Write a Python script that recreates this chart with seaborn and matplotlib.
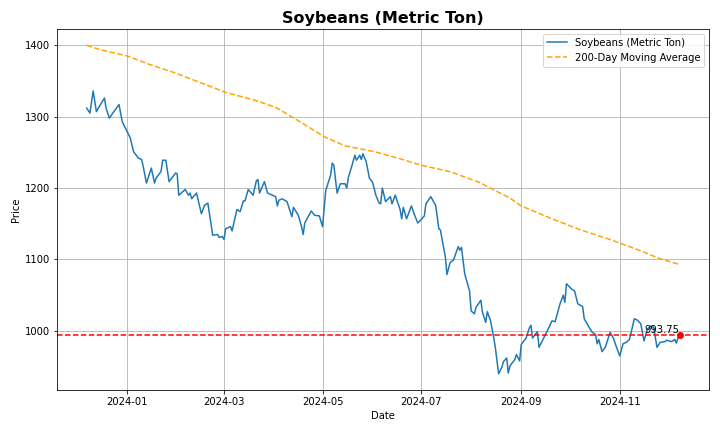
import pandas as pd
import seaborn as sns
import matplotlib
matplotlib.use("Agg")
import matplotlib.pyplot as plt

# days counted from 2024-01-01
base_date = pd.Timestamp("2024-01-01")

price_days = [-25, -23, -21, -19, -17, -14, -13, -11, -5, -3,
              2, 4, 7, 9, 10, 12, 15, 17, 18, 21,
              22, 24, 26, 30, 31, 32, 36, 38, 39, 40,
              43, 46, 48, 50, 53, 56, 57, 59, 60, 61,
              64, 65, 68, 70, 72, 73, 75, 78, 80, 81,
              82, 85, 87, 92, 93, 94, 96, 99, 102, 103,
              106, 108, 109, 110, 114, 116, 119, 121, 123, 126,
              127, 128, 130, 132, 135, 136, 137, 139, 141, 142,
              144, 145, 146, 148, 150, 152, 154, 156, 157, 158,
              160, 163, 164, 166, 169, 170, 171, 173, 176, 178,
              180, 184, 185, 188, 191, 193, 194, 195, 197, 198,
              200, 202, 205, 206, 207, 209, 212, 213, 215, 216,
              219, 220, 222, 223, 225, 227, 228, 230, 232, 233,
              235, 236, 237, 240, 241, 243, 244, 247, 249, 250,
              251, 254, 255, 257, 259, 261, 263, 265, 268, 270,
              271, 272, 275, 277, 279, 282, 283, 286, 288, 290,
              291, 292, 294, 296, 299, 301, 303, 305, 307, 309,
              311, 314, 316, 318, 320, 322, 324, 326, 328, 330,
              333, 334, 337, 339, 340, 341, 342]

prices = [1312, 1305, 1336, 1307, 1315, 1326, 1312, 1298, 1317, 1293,
          1270, 1251, 1242, 1240, 1230, 1207, 1228, 1207, 1214, 1223,
          1239, 1239, 1209, 1221, 1220, 1190, 1198, 1190, 1193, 1185,
          1193, 1164, 1176, 1179, 1134, 1135, 1131, 1132, 1128, 1143,
          1146, 1140, 1170, 1167, 1182, 1182, 1198, 1190, 1210, 1212,
          1193, 1209, 1193, 1188, 1175, 1183, 1185, 1181, 1160, 1173,
          1162, 1146, 1135, 1151, 1168, 1162, 1161, 1146, 1197, 1218,
          1235, 1232, 1193, 1206, 1206, 1200, 1215, 1230, 1246, 1239,
          1246, 1240, 1248, 1237, 1214, 1208, 1190, 1179, 1178, 1200,
          1181, 1188, 1178, 1190, 1170, 1157, 1173, 1157, 1175, 1162,
          1151, 1161, 1178, 1188, 1176, 1143, 1141, 1128, 1104, 1079,
          1096, 1099, 1118, 1113, 1117, 1080, 1056, 1028, 1024, 1033,
          1043, 1026, 1012, 1027, 1014, 990, 976, 940, 949, 957,
          962, 941, 951, 960, 967, 958, 981, 990, 1004, 1008,
          990, 999, 977, 986, 995, 1004, 1014, 1013, 1038, 1050,
          1040, 1066, 1059, 1056, 1038, 1034, 1017, 1005, 998, 995,
          982, 988, 971, 977, 998, 990, 977, 965, 982, 984,
          988, 1017, 1015, 1010, 986, 1002, 1007, 1005, 977, 984,
          985, 987, 985, 988, 983, 990, 993.75]

ma_days = [-25, -17, 0, 14, 30, 45, 61, 79, 92, 107,
           122, 135, 153, 169, 182, 200, 218, 237, 244, 262,
           280, 299, 317, 330, 342]
ma_values = [1400, 1394, 1385, 1373, 1361, 1348, 1334, 1323, 1313, 1293,
             1272, 1259, 1251, 1241, 1232, 1223, 1208, 1186, 1175, 1158,
             1142, 1128, 1113, 1101, 1093]

price_dates = base_date + pd.to_timedelta(price_days, unit="D")
ma_dates = base_date + pd.to_timedelta(ma_days, unit="D")
last_price = prices[-1]

fig, ax = plt.subplots(figsize=(10, 6), dpi=72)

sns.lineplot(x=price_dates, y=prices, ax=ax, color="#1f77b4",
             linewidth=1.5, label="Soybeans (Metric Ton)")
sns.lineplot(x=ma_dates, y=ma_values, ax=ax, color="orange",
             linestyle="--", linewidth=1.5, label="200-Day Moving Average")

ax.axhline(last_price, color="red", linestyle="--", linewidth=1.5)
ax.scatter([price_dates[-1]], [last_price], color="red", s=36, zorder=5)
ax.text(price_dates[-1], last_price, f"{last_price}", ha="right", va="bottom", fontsize=10)

ax.set_title("Soybeans (Metric Ton)", fontsize=16, fontweight="bold")
ax.set_xlabel("Date")
ax.set_ylabel("Price")
ax.grid(True)
ax.legend(loc="upper right")

plt.tight_layout()
plt.savefig("out.png")
